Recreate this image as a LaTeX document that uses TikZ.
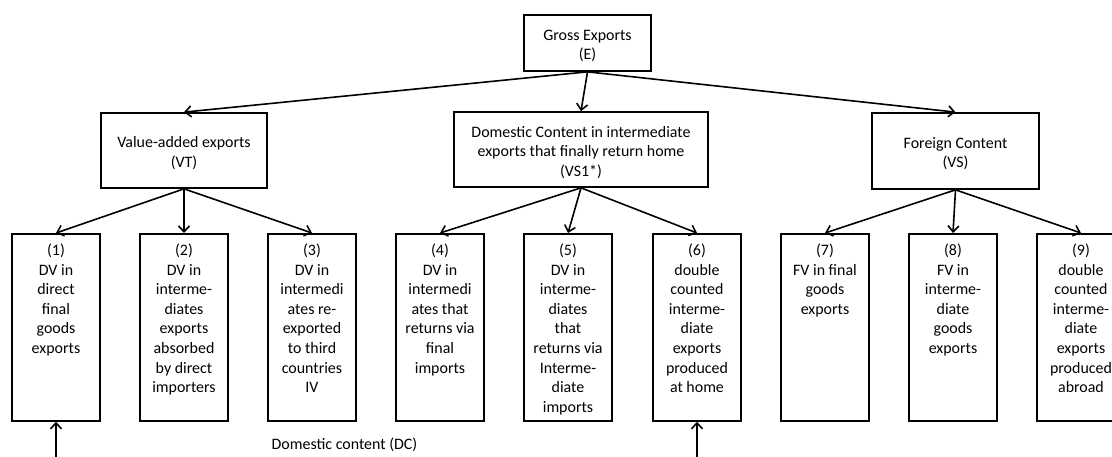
\documentclass[tikz,border=0pt]{standalone}
\usepackage{fontspec}
\setmainfont{Carlito}
\usetikzlibrary{arrows.meta}
\newcommand{\topstrut}{\rule{0pt}{16.5bp}}
\begin{document}
\begin{tikzpicture}[x=1bp,y=-1bp,
  every node/.style={font=\fontsize{16}{19.6}\selectfont},
  box/.style={draw, line width=1.7bp, align=center, inner sep=0pt},
  leaf/.style={draw, line width=1.7bp, minimum width=88bp, minimum height=187bp, inner sep=0pt, anchor=north},
  ltext/.style={align=center, anchor=north, inner sep=0pt},
  arr/.style={-{Straight Barb[length=6bp,width=11bp]}, line width=1.6bp}]
\useasboundingbox (0,0) rectangle (1112,457);
\clip (0,0) rectangle (1112,457);

% top
\node[box, minimum width=127bp, minimum height=56bp] (gross) at (587.5,43) {\topstrut Gross Exports\\(E)};

% middle
\node[box, minimum width=166bp, minimum height=75bp] (vt) at (184,150.5) {\topstrut Value-added exports\\(VT)};
\node[box, minimum width=254bp, minimum height=75bp] (dom) at (581,149.5) {\topstrut Domestic Content in intermediate\\exports that finally return home\\(VS1*)};
\node[box, minimum width=167bp, minimum height=76bp] (vs) at (955.5,151) {\topstrut Foreign Content\\(VS)};

% leaves
\node[leaf] (b1) at (56,233) {};
\node[leaf] (b2) at (184,233) {};
\node[leaf] (b3) at (312,233) {};
\node[leaf] (b4) at (440,233) {};
\node[leaf] (b5) at (568,233) {};
\node[leaf] (b6) at (697,233) {};
\node[leaf] (b7) at (825,233) {};
\node[leaf] (b8) at (953,233) {};
\node[leaf] (b9) at (1081,233) {};

\node[ltext] (t1) at ([yshift=-11bp]b1.north) {(1)\\DV in\\direct\\final\\goods\\exports};
\node[ltext] (t2) at ([yshift=-11bp]b2.north) {(2)\\DV in\\interme-\\diates\\exports\\absorbed\\by direct\\importers};
\node[ltext] (t3) at ([yshift=-11bp]b3.north) {(3)\\DV in\\intermedi\\ates re-\\exported\\to third\\countries\\IV};
\node[ltext] (t4) at ([yshift=-11bp]b4.north) {(4)\\DV in\\intermedi\\ates that\\returns via\\final\\imports};
\node[ltext] (t5) at ([yshift=-11bp]b5.north) {(5)\\DV in\\interme-\\diates\\that\\returns via\\Interme-\\diate\\imports};
\node[ltext] (t6) at ([yshift=-11bp]b6.north) {(6)\\double\\counted\\interme-\\diate\\exports\\produced\\at home};
\node[ltext] (t7) at ([yshift=-11bp]b7.north) {(7)\\FV in final\\goods\\exports};
\node[ltext] (t8) at ([yshift=-11bp]b8.north) {(8)\\FV in\\interme-\\diate\\goods\\exports};
\node[ltext] (t9) at ([yshift=-11bp]b9.north) {(9)\\double\\counted\\interme-\\diate\\exports\\produced\\abroad};

\node[anchor=base, inner sep=0pt] (dc) at (344.5,449) {Domestic content (DC)};

% connectors
\draw[arr] (gross.south) -- (vt.north);
\draw[arr] (gross.south) -- (dom.north);
\draw[arr] (gross.south) -- (vs.north);

\draw[arr] (vt.south) -- (b1.north);
\draw[arr] (vt.south) -- (b2.north);
\draw[arr] (vt.south) -- (b3.north);
\draw[arr] (dom.south) -- (b4.north);
\draw[arr] (dom.south) -- (b5.north);
\draw[arr] (dom.south) -- (b6.north);
\draw[arr] (vs.south) -- (b7.north);
\draw[arr] (vs.south) -- (b8.north);
\draw[arr] (vs.south) -- (b9.north);

\coordinate (u1) at (56,457);
\coordinate (u6) at (697,457);
\draw[arr] (u1) -- (b1.south);
\draw[arr] (u6) -- (b6.south);
\end{tikzpicture}
\end{document}
